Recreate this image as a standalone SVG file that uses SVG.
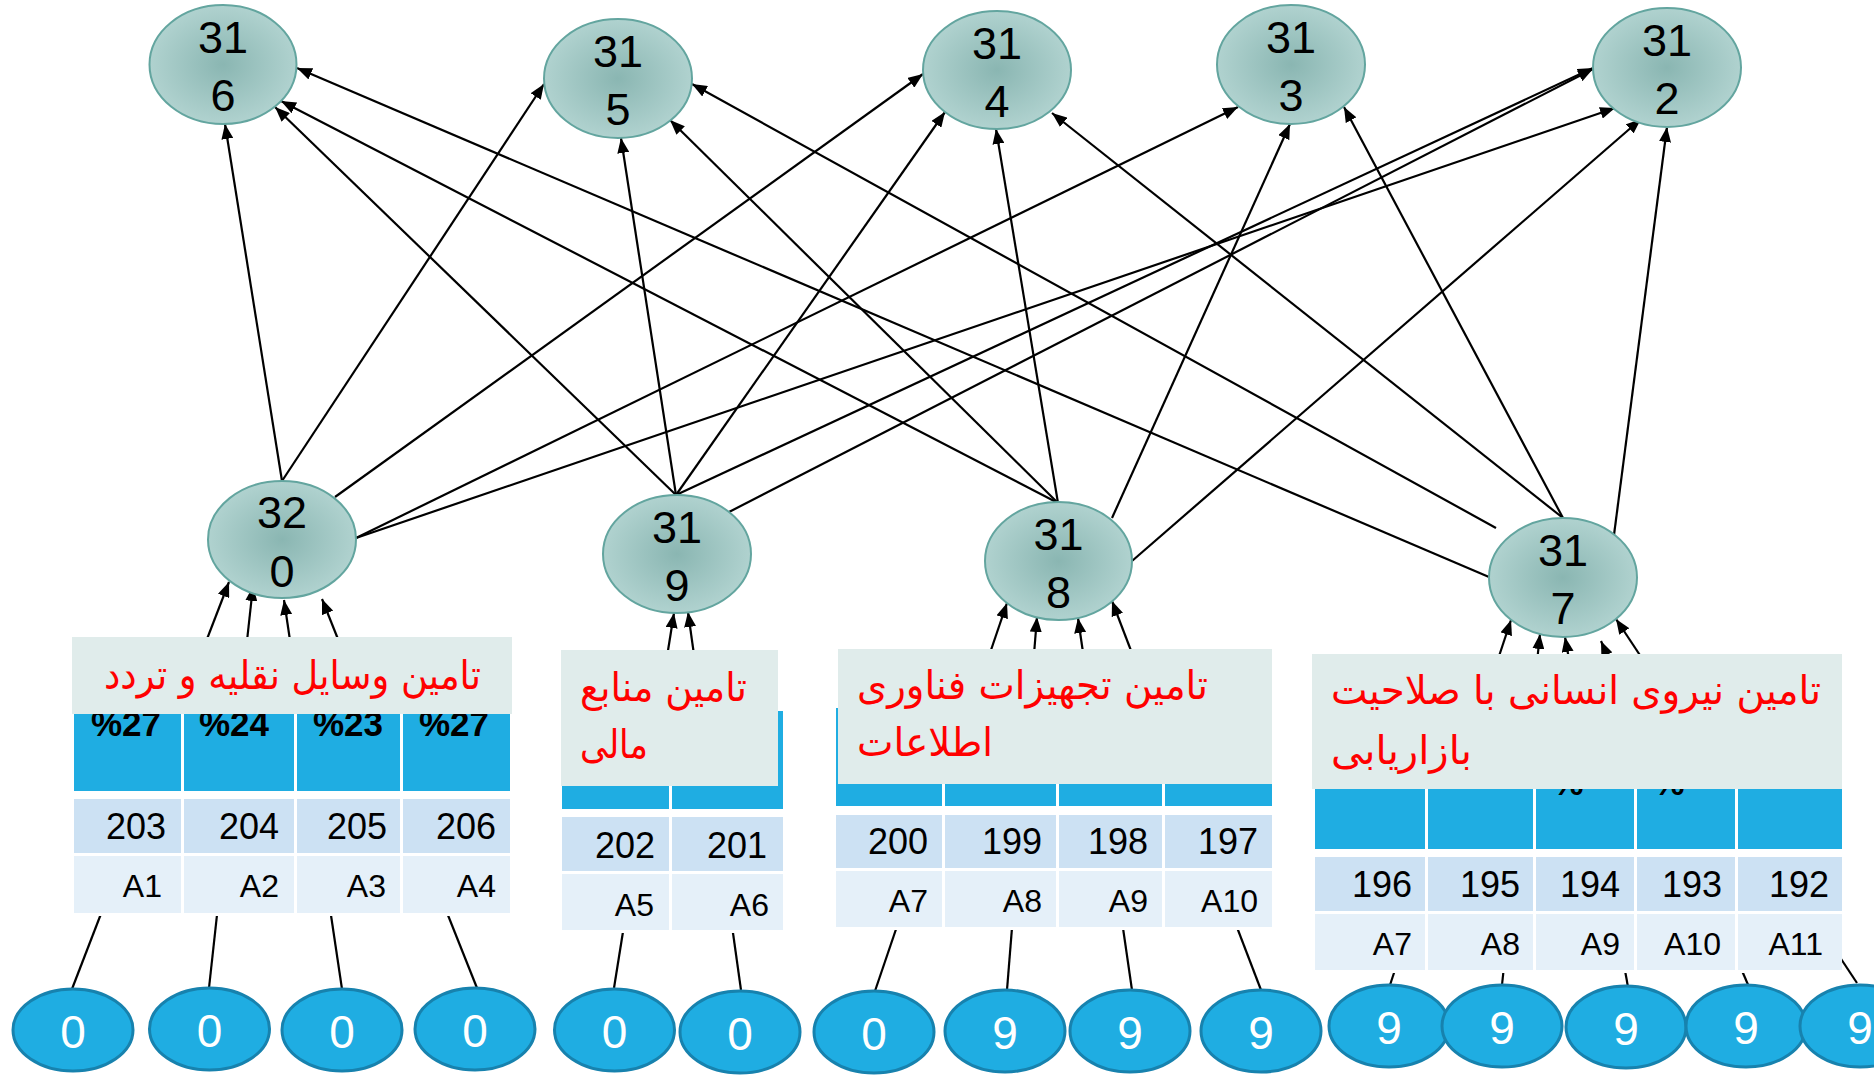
<svg xmlns="http://www.w3.org/2000/svg" width="1874" height="1081" viewBox="0 0 1874 1081">
<defs>
<radialGradient id="tg" cx="50%" cy="50%" r="50%">
<stop offset="0%" stop-color="#8AB6B2"/>
<stop offset="100%" stop-color="#B0D2CF"/>
</radialGradient>
<marker id="ah" viewBox="0 0 15 12" markerWidth="15" markerHeight="12" refX="15" refY="6" orient="auto" markerUnits="userSpaceOnUse">
<path d="M0,0 L15,6 L0,12 z" fill="#000"/>
</marker>
<style>
.tn ellipse{fill:url(#tg);stroke:#63A59F;stroke-width:2}
.tn text{font-family:'Liberation Sans',Arial,sans-serif;font-size:45px;fill:#000;text-anchor:middle}
.bn ellipse{fill:#1FADE2;stroke:#1782AE;stroke-width:3}
.bn text{font-family:'Liberation Sans',Arial,sans-serif;font-size:46px;fill:#fff;text-anchor:middle}
.conn line{stroke:#000;stroke-width:2.2;marker-end:url(#ah)}
.bg{fill:#fff}
.hd{fill:#1FADE2}
.nr{fill:#CCE1F3}
.ar{fill:#E5F0F9}
.lb{fill:#E0ECEB}
.num{font-family:'Liberation Sans',Arial,sans-serif;font-size:36px;fill:#000;text-anchor:end}
.al{font-family:'Liberation Sans',Arial,sans-serif;font-size:32px;fill:#000;text-anchor:end}
.pct{font-family:'Liberation Sans',Arial,sans-serif;font-size:35px;font-weight:bold;fill:#000;text-anchor:middle}
.fa{font-family:'DejaVu Sans',sans-serif;font-size:40px;fill:#FF0000}
</style>
</defs>
<rect width="1874" height="1081" fill="#fff"/>

<g id="connectors" class="conn">
<line x1="282" y1="481" x2="225" y2="124"/>
<line x1="282" y1="481" x2="544" y2="84"/>
<line x1="335" y1="497" x2="923" y2="74"/>
<line x1="356" y1="538" x2="1238" y2="107"/>
<line x1="356" y1="538" x2="1615" y2="108"/>
<line x1="676" y1="495" x2="275" y2="107"/>
<line x1="676" y1="495" x2="621" y2="138"/>
<line x1="676" y1="495" x2="945" y2="112"/>
<line x1="676" y1="495" x2="1593" y2="68"/>
<line x1="729" y1="512" x2="1593" y2="69"/>
<line x1="1058" y1="503" x2="281" y2="101"/>
<line x1="1058" y1="503" x2="670" y2="120"/>
<line x1="1058" y1="503" x2="996" y2="129"/>
<line x1="1112" y1="518" x2="1290" y2="124"/>
<line x1="1132" y1="561" x2="1641" y2="119"/>
<line x1="1563" y1="518" x2="1052" y2="113"/>
<line x1="1563" y1="518" x2="1344" y2="107"/>
<line x1="1496" y1="528" x2="692" y2="84"/>
<line x1="1489" y1="577" x2="297" y2="68"/>
<line x1="1614" y1="535" x2="1667" y2="127"/>
<line x1="72" y1="989" x2="229" y2="582"/>
<line x1="209" y1="988" x2="253" y2="586"/>
<line x1="342" y1="989" x2="284" y2="600"/>
<line x1="477" y1="988" x2="322" y2="599"/>
<line x1="614" y1="988" x2="674" y2="613"/>
<line x1="741" y1="990" x2="688" y2="612"/>
<line x1="875" y1="991" x2="1007" y2="603"/>
<line x1="1007" y1="990" x2="1037" y2="617"/>
<line x1="1132" y1="990" x2="1078" y2="618"/>
<line x1="1261" y1="990" x2="1112" y2="601"/>
<line x1="1390" y1="985" x2="1511" y2="620"/>
<line x1="1502" y1="985" x2="1540" y2="634"/>
<line x1="1628" y1="987" x2="1565" y2="637"/>
<line x1="1749" y1="987" x2="1601" y2="641"/>
<line x1="1857" y1="983" x2="1616" y2="619"/>
</g>

<g id="n316" class="tn"><ellipse cx="223" cy="64.5" rx="73.5" ry="59.5"/><text x="223" y="53">31</text><text x="223" y="111">6</text></g>
<g id="n315" class="tn"><ellipse cx="618" cy="78.5" rx="74" ry="59.5"/><text x="618" y="67">31</text><text x="618" y="125">5</text></g>
<g id="n314" class="tn"><ellipse cx="997" cy="70" rx="74" ry="59"/><text x="997" y="59">31</text><text x="997" y="117">4</text></g>
<g id="n313" class="tn"><ellipse cx="1291" cy="64.5" rx="74" ry="59.5"/><text x="1291" y="53">31</text><text x="1291" y="111">3</text></g>
<g id="n312" class="tn"><ellipse cx="1667" cy="67.5" rx="74" ry="59.5"/><text x="1667" y="56">31</text><text x="1667" y="114">2</text></g>

<g id="n320" class="tn"><ellipse cx="282" cy="539.5" rx="74" ry="58.5"/><text x="282" y="528">32</text><text x="282" y="587">0</text></g>
<g id="n319" class="tn"><ellipse cx="677" cy="554" rx="74" ry="59"/><text x="677" y="543">31</text><text x="677" y="601">9</text></g>
<g id="n318" class="tn"><ellipse cx="1058.5" cy="561" rx="73.5" ry="59"/><text x="1058.5" y="550">31</text><text x="1058.5" y="608">8</text></g>
<g id="n317" class="tn"><ellipse cx="1563" cy="577.5" rx="74" ry="59.5"/><text x="1563" y="566">31</text><text x="1563" y="624">7</text></g>

<g id="b1" class="bn"><ellipse cx="73" cy="1030" rx="60" ry="41"/><text x="73" y="1048">0</text></g>
<g id="b2" class="bn"><ellipse cx="209.5" cy="1029" rx="60" ry="41"/><text x="209.5" y="1047">0</text></g>
<g id="b3" class="bn"><ellipse cx="342" cy="1030" rx="60" ry="41"/><text x="342" y="1048">0</text></g>
<g id="b4" class="bn"><ellipse cx="475" cy="1029" rx="60" ry="41"/><text x="475" y="1047">0</text></g>
<g id="b5" class="bn"><ellipse cx="614.5" cy="1030" rx="60" ry="41"/><text x="614.5" y="1048">0</text></g>
<g id="b6" class="bn"><ellipse cx="740" cy="1032" rx="60" ry="41"/><text x="740" y="1050">0</text></g>
<g id="b7" class="bn"><ellipse cx="874" cy="1032" rx="60" ry="41"/><text x="874" y="1050">0</text></g>
<g id="b8" class="bn"><ellipse cx="1005" cy="1031" rx="60" ry="41"/><text x="1005" y="1049">9</text></g>
<g id="b9" class="bn"><ellipse cx="1130" cy="1031" rx="60" ry="41"/><text x="1130" y="1049">9</text></g>
<g id="b10" class="bn"><ellipse cx="1261" cy="1031" rx="60" ry="41"/><text x="1261" y="1049">9</text></g>
<g id="b11" class="bn"><ellipse cx="1389" cy="1026" rx="60" ry="41"/><text x="1389" y="1044">9</text></g>
<g id="b12" class="bn"><ellipse cx="1502" cy="1026" rx="60" ry="41"/><text x="1502" y="1044">9</text></g>
<g id="b13" class="bn"><ellipse cx="1626" cy="1027" rx="60" ry="41"/><text x="1626" y="1045">9</text></g>
<g id="b14" class="bn"><ellipse cx="1746" cy="1026" rx="60" ry="41"/><text x="1746" y="1044">9</text></g>
<g id="b15" class="bn"><ellipse cx="1860" cy="1026" rx="60" ry="41"/><text x="1860" y="1044">9</text></g>

<g id="t1">
<rect class="bg" x="72" y="700" width="440" height="216"/>
<rect class="hd" x="74" y="700" width="107" height="91"/>
<rect class="hd" x="184" y="700" width="110" height="91"/>
<rect class="hd" x="297" y="700" width="103" height="91"/>
<rect class="hd" x="403" y="700" width="107" height="91"/>
<text class="pct" x="126" y="736">%27</text>
<text class="pct" x="234" y="736">%24</text>
<text class="pct" x="348" y="736">%23</text>
<text class="pct" x="454" y="736">%27</text>
<rect class="nr" x="74" y="799" width="107" height="54"/>
<rect class="nr" x="184" y="799" width="110" height="54"/>
<rect class="nr" x="297" y="799" width="103" height="54"/>
<rect class="nr" x="403" y="799" width="107" height="54"/>
<text class="num" x="166" y="839">203</text>
<text class="num" x="279" y="839">204</text>
<text class="num" x="387" y="839">205</text>
<text class="num" x="496" y="839">206</text>
<rect class="ar" x="74" y="856" width="107" height="57"/>
<rect class="ar" x="184" y="856" width="110" height="57"/>
<rect class="ar" x="297" y="856" width="103" height="57"/>
<rect class="ar" x="403" y="856" width="107" height="57"/>
<text class="al" x="162" y="897">A1</text>
<text class="al" x="279" y="897">A2</text>
<text class="al" x="386" y="897">A3</text>
<text class="al" x="496" y="897">A4</text>
<rect class="lb" x="72" y="637" width="440" height="77"/>
<text class="fa" x="104" y="689" textLength="377" lengthAdjust="spacingAndGlyphs">تامین وسایل نقلیه و تردد</text>
</g>

<g id="t2">
<rect class="bg" x="561" y="711" width="222" height="222"/>
<rect class="hd" x="562" y="711" width="107" height="98"/>
<rect class="hd" x="672" y="711" width="111" height="98"/>
<rect class="nr" x="562" y="817" width="107" height="54"/>
<rect class="nr" x="672" y="817" width="111" height="54"/>
<text class="num" x="655" y="858">202</text>
<text class="num" x="767" y="858">201</text>
<rect class="ar" x="562" y="874" width="107" height="56"/>
<rect class="ar" x="672" y="874" width="111" height="56"/>
<text class="al" x="654" y="916">A5</text>
<text class="al" x="769" y="916">A6</text>
<rect class="lb" x="561" y="650" width="217" height="136"/>
<text class="fa" x="580" y="701" textLength="167" lengthAdjust="spacingAndGlyphs">تامین منابع</text>
<text class="fa" x="580" y="758" textLength="68" lengthAdjust="spacingAndGlyphs">مالی</text>
</g>

<g id="t3">
<rect class="bg" x="836" y="708" width="436" height="222"/>
<rect class="hd" x="836" y="708" width="106" height="98"/>
<rect class="hd" x="945" y="708" width="111" height="98"/>
<rect class="hd" x="1059" y="708" width="103" height="98"/>
<rect class="hd" x="1165" y="708" width="107" height="98"/>
<rect class="nr" x="836" y="815" width="106" height="53"/>
<rect class="nr" x="945" y="815" width="111" height="53"/>
<rect class="nr" x="1059" y="815" width="103" height="53"/>
<rect class="nr" x="1165" y="815" width="107" height="53"/>
<text class="num" x="928" y="854">200</text>
<text class="num" x="1042" y="854">199</text>
<text class="num" x="1148" y="854">198</text>
<text class="num" x="1258" y="854">197</text>
<rect class="ar" x="836" y="871" width="106" height="56"/>
<rect class="ar" x="945" y="871" width="111" height="56"/>
<rect class="ar" x="1059" y="871" width="103" height="56"/>
<rect class="ar" x="1165" y="871" width="107" height="56"/>
<text class="al" x="928" y="912">A7</text>
<text class="al" x="1042" y="912">A8</text>
<text class="al" x="1148" y="912">A9</text>
<text class="al" x="1258" y="912">A10</text>
<rect class="lb" x="838" y="649" width="434" height="135"/>
<text class="fa" x="857" y="699" textLength="351" lengthAdjust="spacingAndGlyphs">تامین تجهیزات فناوری</text>
<text class="fa" x="857" y="756" textLength="136" lengthAdjust="spacingAndGlyphs">اطلاعات</text>
</g>

<g id="t4">
<rect class="bg" x="1312" y="700" width="530" height="273"/>
<rect class="hd" x="1315" y="700" width="110" height="149"/>
<rect class="hd" x="1428" y="700" width="105" height="149"/>
<rect class="hd" x="1536" y="700" width="98" height="149"/>
<rect class="hd" x="1637" y="700" width="98" height="149"/>
<rect class="hd" x="1738" y="700" width="104" height="149"/>
<text class="pct" x="1568" y="795">%</text>
<text class="pct" x="1669" y="795">%</text>
<rect class="nr" x="1315" y="857" width="110" height="54"/>
<rect class="nr" x="1428" y="857" width="105" height="54"/>
<rect class="nr" x="1536" y="857" width="98" height="54"/>
<rect class="nr" x="1637" y="857" width="98" height="54"/>
<rect class="nr" x="1738" y="857" width="104" height="54"/>
<text class="num" x="1412" y="897">196</text>
<text class="num" x="1520" y="897">195</text>
<text class="num" x="1620" y="897">194</text>
<text class="num" x="1722" y="897">193</text>
<text class="num" x="1829" y="897">192</text>
<rect class="ar" x="1315" y="914" width="110" height="56"/>
<rect class="ar" x="1428" y="914" width="105" height="56"/>
<rect class="ar" x="1536" y="914" width="98" height="56"/>
<rect class="ar" x="1637" y="914" width="98" height="56"/>
<rect class="ar" x="1738" y="914" width="104" height="56"/>
<text class="al" x="1412" y="955">A7</text>
<text class="al" x="1520" y="955">A8</text>
<text class="al" x="1620" y="955">A9</text>
<text class="al" x="1721" y="955">A10</text>
<text class="al" x="1823" y="955">A11</text>
<rect class="lb" x="1312" y="654" width="530" height="135"/>
<text class="fa" x="1331" y="704" textLength="490" lengthAdjust="spacingAndGlyphs">تامین نیروی انسانی با صلاحیت</text>
<text class="fa" x="1331" y="764" textLength="141" lengthAdjust="spacingAndGlyphs">بازاریابی</text>
</g>
</svg>
